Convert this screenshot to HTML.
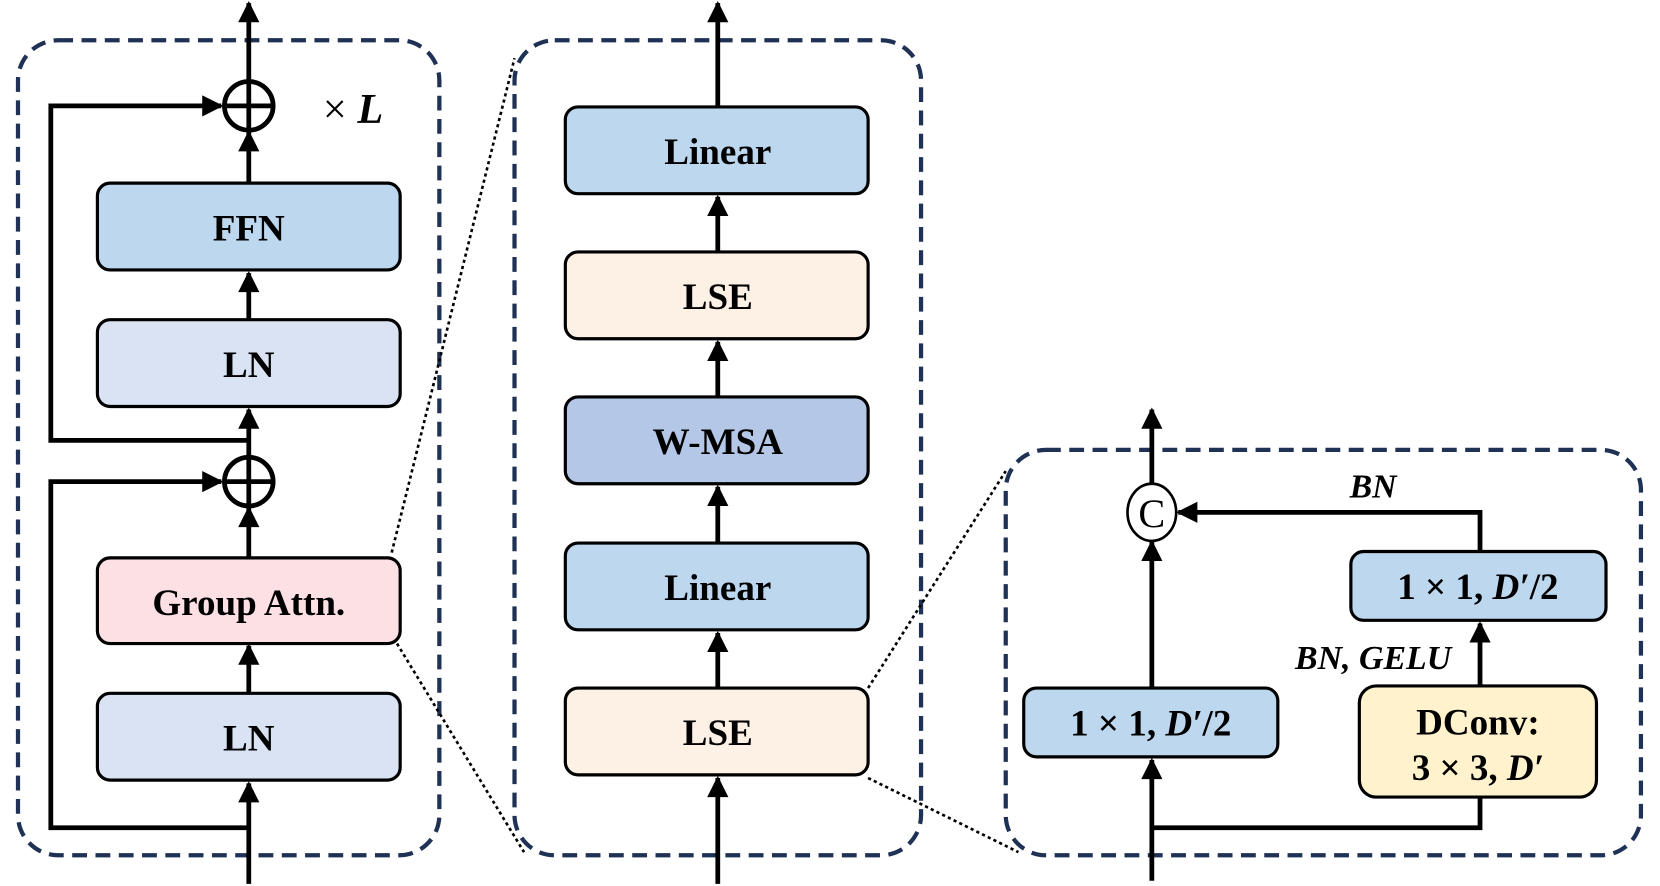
<!DOCTYPE html>
<html><head><meta charset="utf-8"><style>html,body{margin:0;padding:0;background:#fff}svg{display:block}</style></head>
<body>
<svg width="1660" height="886" viewBox="0 0 1568 837" preserveAspectRatio="none" xmlns="http://www.w3.org/2000/svg" font-family="Liberation Serif, serif" font-weight="bold">
<defs>
<marker id="b" viewBox="0 0 10 10" refX="9" refY="5" markerWidth="24" markerHeight="20" markerUnits="userSpaceOnUse" orient="auto"><path d="M0,0 L10,5 L0,10 z" fill="#000"/></marker>
</defs>
<g fill="none" stroke="#1f3154" stroke-width="4" stroke-dasharray="14 8">
<rect x="17" y="38" width="398" height="770" rx="38"/>
<rect x="486" y="38" width="384" height="770" rx="38"/>
<rect x="950" y="425" width="600" height="383" rx="38"/>
</g>
<g stroke="#000" stroke-width="2.5" stroke-dasharray="3 3" fill="none">
<line x1="370" y1="522" x2="486" y2="55"/>
<line x1="375" y1="608" x2="495" y2="805"/>
<line x1="820" y1="650" x2="950" y2="445"/>
<line x1="820" y1="735" x2="962" y2="805"/>
</g>
<g stroke="#000" stroke-width="4.5" fill="none">
<line x1="235" y1="835" x2="235" y2="740" marker-end="url(#b)"/>
<line x1="235" y1="655" x2="235" y2="610" marker-end="url(#b)"/>
<line x1="235" y1="527" x2="235" y2="480" marker-end="url(#b)"/>
<line x1="235" y1="431" x2="235" y2="387" marker-end="url(#b)"/>
<line x1="235" y1="302" x2="235" y2="258" marker-end="url(#b)"/>
<line x1="235" y1="173" x2="235" y2="125" marker-end="url(#b)"/>
<line x1="235" y1="76" x2="235" y2="3" marker-end="url(#b)"/>
<polyline points="235,416 48,416 48,100 209,100" marker-end="url(#b)"/>
<polyline points="235,782 48,782 48,455 209,455" marker-end="url(#b)"/>
<circle cx="235" cy="100" r="23"/><line x1="212" y1="100" x2="258" y2="100"/><line x1="235" y1="77" x2="235" y2="123"/>
<circle cx="235" cy="455" r="23"/><line x1="212" y1="455" x2="258" y2="455"/><line x1="235" y1="432" x2="235" y2="478"/>
<line x1="678" y1="835" x2="678" y2="735" marker-end="url(#b)"/>
<line x1="678" y1="650" x2="678" y2="598" marker-end="url(#b)"/>
<line x1="678" y1="513" x2="678" y2="460" marker-end="url(#b)"/>
<line x1="678" y1="375" x2="678" y2="323" marker-end="url(#b)"/>
<line x1="678" y1="238" x2="678" y2="186" marker-end="url(#b)"/>
<line x1="678" y1="101" x2="678" y2="3" marker-end="url(#b)"/>
<line x1="1088" y1="832" x2="1088" y2="718" marker-end="url(#b)"/>
<line x1="1088" y1="650" x2="1088" y2="512" marker-end="url(#b)"/>
<line x1="1088" y1="458" x2="1088" y2="387" marker-end="url(#b)"/>
<polyline points="1088,782 1398,782 1398,753"/>
<line x1="1398" y1="648" x2="1398" y2="589" marker-end="url(#b)"/>
<polyline points="1398,521 1398,484 1113,484" marker-end="url(#b)"/>
</g>
<ellipse cx="1088" cy="484" rx="23" ry="27" fill="#fff" stroke="#000" stroke-width="2.5"/>
<text x="1088" y="498" font-size="38" font-weight="normal" text-anchor="middle">C</text>
<g stroke="#000" stroke-width="3">
<rect x="92" y="173" width="286" height="82" rx="12" fill="#bdd7ee"/>
<rect x="92" y="302" width="286" height="82" rx="12" fill="#dae3f3"/>
<rect x="92" y="527" width="286" height="81" rx="12" fill="#fde0e3"/>
<rect x="92" y="655" width="286" height="82" rx="12" fill="#dae3f3"/>
<rect x="534" y="101" width="286" height="82" rx="12" fill="#bdd7ee"/>
<rect x="534" y="238" width="286" height="82" rx="12" fill="#fdf0e5"/>
<rect x="534" y="375" width="286" height="82" rx="12" fill="#b4c7e7"/>
<rect x="534" y="513" width="286" height="82" rx="12" fill="#bdd7ee"/>
<rect x="534" y="650" width="286" height="82" rx="12" fill="#fdf0e5"/>
<rect x="967" y="650" width="240" height="65" rx="12" fill="#bdd7ee"/>
<rect x="1276" y="521" width="241" height="65" rx="12" fill="#bdd7ee"/>
<rect x="1284" y="648" width="224" height="105" rx="16" fill="#fff2cc"/>
</g>
<g font-size="35" text-anchor="middle" fill="#000">
<text x="235" y="227">FFN</text>
<text x="235" y="356">LN</text>
<text x="235" y="581">Group Attn.</text>
<text x="235" y="709">LN</text>
<text x="678" y="155">Linear</text>
<text x="678" y="292">LSE</text>
<text x="678" y="429">W-MSA</text>
<text x="678" y="567">Linear</text>
<text x="678" y="704">LSE</text>
<text x="1087" y="695">1 × 1, <tspan font-style="italic">D′</tspan>/2</text>
<text x="1396" y="566">1 × 1, <tspan font-style="italic">D′</tspan>/2</text>
<text x="1396" y="694">DConv:</text>
<text x="1396" y="737">3 × 3, <tspan font-style="italic">D′</tspan></text>
<text x="1297" y="470" font-style="italic" font-size="32">BN</text>
<text x="1297" y="632" font-style="italic" font-size="32">BN, GELU</text>
<text x="305" y="116" font-size="40" font-weight="normal" text-anchor="start">× <tspan font-style="italic" font-weight="bold">L</tspan></text>
</g>
</svg>
</body></html>
